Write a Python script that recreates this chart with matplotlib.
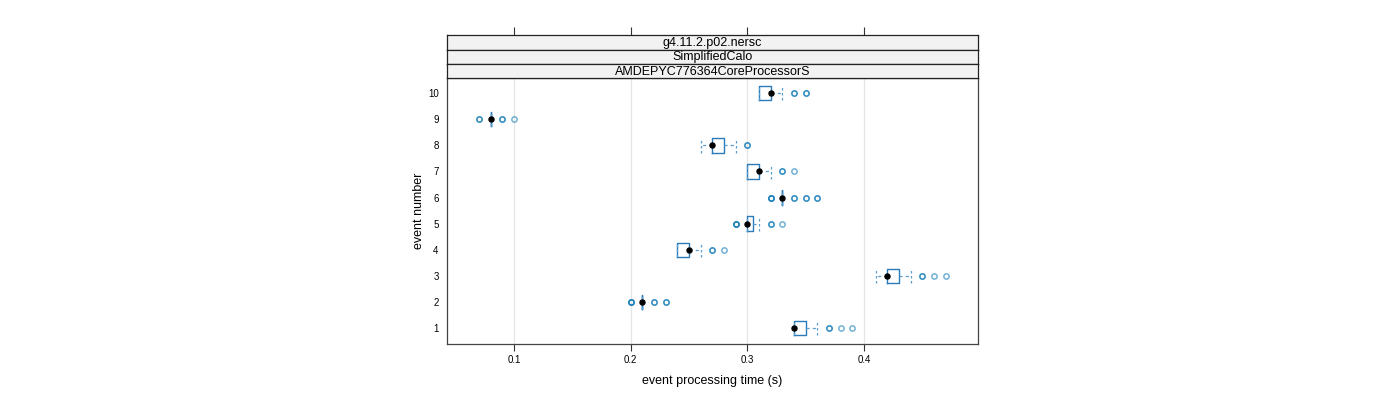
import matplotlib
matplotlib.use("Agg")
import matplotlib.pyplot as plt

plt.rcParams['font.family'] = ['Liberation Sans', 'DejaVu Sans']

# data: box statistics per event
events = [1, 2, 3, 4, 5, 6, 7, 8, 9, 10]
medians = [0.34, 0.21, 0.42, 0.25, 0.30, 0.33, 0.31, 0.27, 0.08, 0.32]
q1 = [0.34, 0.21, 0.42, 0.24, 0.30, 0.33, 0.30, 0.27, 0.08, 0.31]
q3 = [0.35, 0.21, 0.43, 0.25, 0.305, 0.33, 0.31, 0.28, 0.08, 0.32]
whislo = [0.34, 0.21, 0.41, 0.24, 0.30, 0.33, 0.30, 0.26, 0.08, 0.31]
whishi = [0.36, 0.21, 0.44, 0.26, 0.31, 0.33, 0.32, 0.29, 0.08, 0.33]
outliers = [
    [0.37, 0.37, 0.38, 0.39],
    [0.20, 0.20, 0.20, 0.22, 0.22, 0.23, 0.23],
    [0.45, 0.45, 0.46, 0.47],
    [0.27, 0.27, 0.28],
    [0.29, 0.29, 0.29, 0.32, 0.32, 0.33],
    [0.32, 0.32, 0.32, 0.34, 0.34, 0.35, 0.35, 0.36, 0.36],
    [0.33, 0.33, 0.34],
    [0.30, 0.30],
    [0.07, 0.07, 0.09, 0.09, 0.10],
    [0.34, 0.34, 0.35, 0.35],
]
xticks = [0.1, 0.2, 0.3, 0.4]
strips = ["g4.11.2.p02.nersc", "SimplifiedCalo", "AMDEPYC776364CoreProcessorS"]
xlabel = "event processing time (s)"
ylabel = "event number"

blue = '#2b7bba'
light = '#5a9fd0'
fig = plt.figure(figsize=(14, 4), dpi=100)
W, H = 1400, 400
L, R = 447, 978
ax = fig.add_axes([L / W, 1 - 344 / H, (R - L) / W, (344 - 78) / H])

stats = []
for i in range(len(events)):
    stats.append(dict(med=medians[i], q1=q1[i], q3=q3[i],
                      whislo=whislo[i], whishi=whishi[i], fliers=[]))
ax.bxp(stats, positions=events, orientation='horizontal', widths=0.55,
       capwidths=0.55, showfliers=False,
       boxprops=dict(color=blue, linewidth=1.0),
       whiskerprops=dict(color=light, linewidth=0.9, linestyle=(0, (2.5, 2.5))),
       capprops=dict(color=light, linewidth=0.9, linestyle=(0, (2, 2))),
       medianprops=dict(linestyle='none'))
for e, m, outs in zip(events, medians, outliers):
    ax.plot(outs, [e] * len(outs), 'o', mfc='none', mec='#0072b2', mew=1.1,
            ms=3.8, alpha=0.55, zorder=3)
    ax.plot([m], [e], 'o', color='black', ms=3.6, zorder=4)

ax.set_xlim(0.0426, 0.4977)
ax.set_ylim(0.39, 10.58)
ax.set_xticks(xticks)
ax.set_xticklabels([str(t) for t in xticks])
ax.set_yticks(events)
ax.set_yticklabels([str(e) for e in events])
ax.tick_params(axis='x', direction='out', length=5, width=0.8, labelsize=7, pad=3,
               color='#333333')
ax.tick_params(axis='y', length=0, labelsize=7, pad=6)
for t in xticks:
    ax.axvline(t, color='#e6e6e6', lw=0.9, zorder=0)
for s in ax.spines.values():
    s.set_color('#444444')
    s.set_linewidth(0.9)
ax.set_xlabel(xlabel, fontsize=9, labelpad=7)
ax.set_ylabel(ylabel, fontsize=9, labelpad=2)

# strips
tops = [35, 49.5, 64, 78]
for k, text in enumerate(strips):
    y0, y1 = tops[k], tops[k + 1]
    sax = fig.add_axes([L / W, 1 - y1 / H, (R - L) / W, (y1 - y0) / H])
    sax.set_facecolor('#f2f2f2')
    sax.set_xlim(ax.get_xlim())
    sax.set_yticks([])
    if k == 0:
        sax.set_xticks(xticks)
        sax.xaxis.tick_top()
        sax.tick_params(axis='x', direction='out', length=6, width=0.8,
                        labeltop=False, labelbottom=False, color='#333333')
    else:
        sax.set_xticks([])
    for s in sax.spines.values():
        s.set_color('#222222')
        s.set_linewidth(0.9)
    sax.text(0.5, 0.45, text, transform=sax.transAxes, ha='center', va='center',
             fontsize=9)

fig.savefig('out.png', dpi=100)
